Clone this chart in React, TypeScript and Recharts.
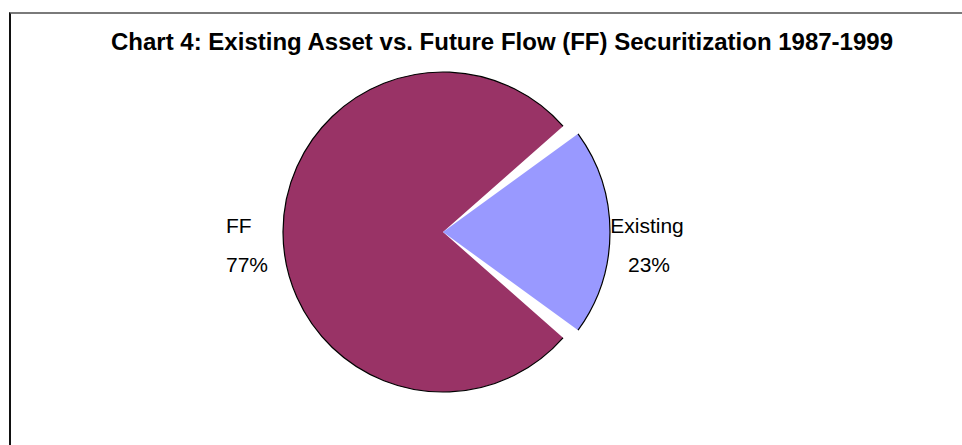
import { PieChart, Pie, Cell } from "recharts";

const names = ["Existing", "FF"];
const values = [23, 77];
const colors = ["#9999FF", "#993366"];
const title = "Chart 4: Existing Asset vs. Future Flow (FF) Securitization 1987-1999";

const data = names.map((name, i) => ({ name, value: values[i] }));
const total = values.reduce((a, b) => a + b, 0);
const existingSweep = (values[0] / total) * 360;
const startAngle = -existingSweep / 2;
// the exploded slice is drawn a little narrower and bigger than its hole, as in the original
const explode = 0.87;
const explodeStart = (-existingSweep * explode) / 2;

const CX = 443;
const CY = 232;
const R = 160;
const R_EXPLODED = 167;
const RAD = Math.PI / 180;
const font = '"Liberation Sans", Arial, sans-serif';

// eslint-disable-next-line @typescript-eslint/no-explicit-any
function renderLabel(props: any) {
  const { cx, cy, midAngle, outerRadius, name, percent } = props;
  const cos = Math.cos(-midAngle * RAD);
  const right = cos >= 0;
  const x = cx + (outerRadius + (right ? 44 : 57)) * cos;
  const anchor = right ? "middle" : "start";
  return (
    <g>
      <text x={x} y={cy + 1} textAnchor={anchor} fontSize={21} fontFamily={font} fill="#000">
        {name}
      </text>
      <text x={x + (right ? 2 : 0)} y={cy + 40} textAnchor={anchor} fontSize={21} fontFamily={font} fill="#000">
        {`${Math.round(percent * 100)}%`}
      </text>
    </g>
  );
}

export default function App() {
  return (
    <div style={{ position: "absolute", left: 0, top: 0, width: 962, height: 445, overflow: "hidden", background: "#fff" }}>
      <div
        style={{
          position: "absolute", left: 9, top: 12, width: 1000, height: 500,
          borderTop: "2px solid #7a7a7a", borderLeft: "2px solid #111", boxSizing: "border-box",
        }}
      />
      <div
        style={{
          position: "absolute", left: 0, top: 30, width: 1004, textAlign: "center",
          fontFamily: font, fontWeight: "bold", fontSize: 24, lineHeight: "24px", color: "#000", whiteSpace: "nowrap",
        }}
      >
        {title}
      </div>
      <div style={{ position: "absolute", left: 0, top: 0 }}>
        <PieChart width={962} height={445} margin={{ top: 0, right: 0, bottom: 0, left: 0 }}>
          <Pie
            data={data} dataKey="value" nameKey="name" cx={CX} cy={CY} outerRadius={R}
            startAngle={startAngle} endAngle={startAngle + 360} stroke="none"
            label={renderLabel} labelLine={false} isAnimationActive={false}
          >
            {data.map((d, i) => (
              <Cell key={d.name} fill={i === 0 ? "none" : colors[i]} />
            ))}
          </Pie>
          <Pie
            data={data} dataKey="value" nameKey="name" cx={CX} cy={CY} outerRadius={R_EXPLODED}
            startAngle={explodeStart} endAngle={explodeStart + 360 * explode} stroke="none"
            isAnimationActive={false}
          >
            {data.map((d, i) => (
              <Cell key={d.name} fill={i === 0 ? colors[i] : "none"} />
            ))}
          </Pie>
          <Pie
            data={data} dataKey="value" nameKey="name" cx={CX} cy={CY} innerRadius={R} outerRadius={R}
            startAngle={startAngle} endAngle={startAngle + 360} fill="none"
            isAnimationActive={false}
          >
            {data.map((d, i) => (
              <Cell key={d.name} fill="none" stroke={i === 0 ? "none" : "#000"} strokeWidth={1.2} />
            ))}
          </Pie>
          <Pie
            data={data} dataKey="value" nameKey="name" cx={CX} cy={CY} innerRadius={R_EXPLODED} outerRadius={R_EXPLODED}
            startAngle={explodeStart} endAngle={explodeStart + 360 * explode} fill="none"
            isAnimationActive={false}
          >
            {data.map((d, i) => (
              <Cell key={d.name} fill="none" stroke={i === 0 ? "#000" : "none"} strokeWidth={1.2} />
            ))}
          </Pie>
        </PieChart>
      </div>
    </div>
  );
}
